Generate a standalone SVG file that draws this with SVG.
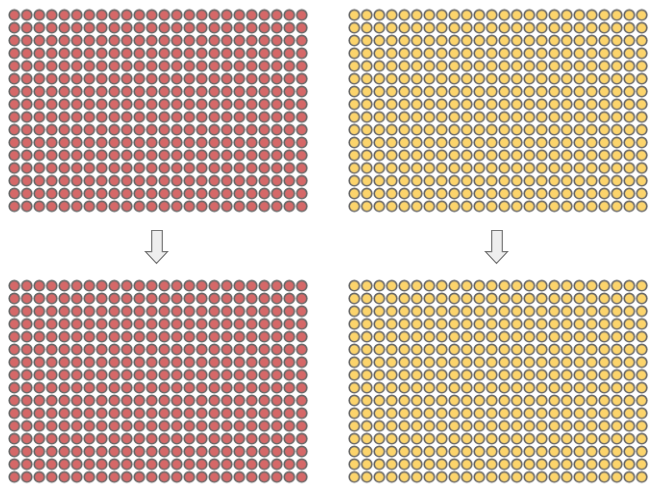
<svg xmlns="http://www.w3.org/2000/svg" width="656" height="498" viewBox="0 0 656 498">
<defs>
<style>
.dot{stroke:#666666;stroke-width:1.6}
.red{fill:#d56868}
.yel{fill:#fcd46c}
.arrow{fill:#eeeeee;stroke:#777777;stroke-width:1.2;stroke-linejoin:miter}
</style>
<pattern id="pRedTop" patternUnits="userSpaceOnUse" x="8.05" y="8.6" width="12.5" height="12.75"><circle class="dot red" cx="6.25" cy="6.4" r="5.1"/></pattern>
<pattern id="pYelTop" patternUnits="userSpaceOnUse" x="348.05" y="8.6" width="12.5" height="12.75"><circle class="dot yel" cx="6.25" cy="6.4" r="5.1"/></pattern>
<pattern id="pRedBot" patternUnits="userSpaceOnUse" x="8.05" y="279.3" width="12.5" height="12.75"><circle class="dot red" cx="6.25" cy="6.4" r="5.1"/></pattern>
<pattern id="pYelBot" patternUnits="userSpaceOnUse" x="348.05" y="279.3" width="12.5" height="12.75"><circle class="dot yel" cx="6.25" cy="6.4" r="5.1"/></pattern>
</defs>
<rect width="656" height="498" fill="#ffffff"/>
<g id="grid-red-top"><rect x="8.05" y="8.6" width="300" height="204" fill="url(#pRedTop)"/></g>
<g id="grid-yellow-top"><rect x="348.05" y="8.6" width="300" height="204" fill="url(#pYelTop)"/></g>
<g id="grid-red-bottom"><rect x="8.05" y="279.3" width="300" height="204" fill="url(#pRedBot)"/></g>
<g id="grid-yellow-bottom"><rect x="348.05" y="279.3" width="300" height="204" fill="url(#pYelBot)"/></g>
<g id="connectors">
<path class="arrow" d="M151.7,230.5 H162.3 V251.7 H167.5 L156.5,263.3 L145.5,251.7 H151.7 Z"/>
<path class="arrow" d="M491.7,230.5 H502.3 V251.7 H507.5 L496.5,263.3 L485.5,251.7 H491.7 Z"/>
</g>
</svg>
